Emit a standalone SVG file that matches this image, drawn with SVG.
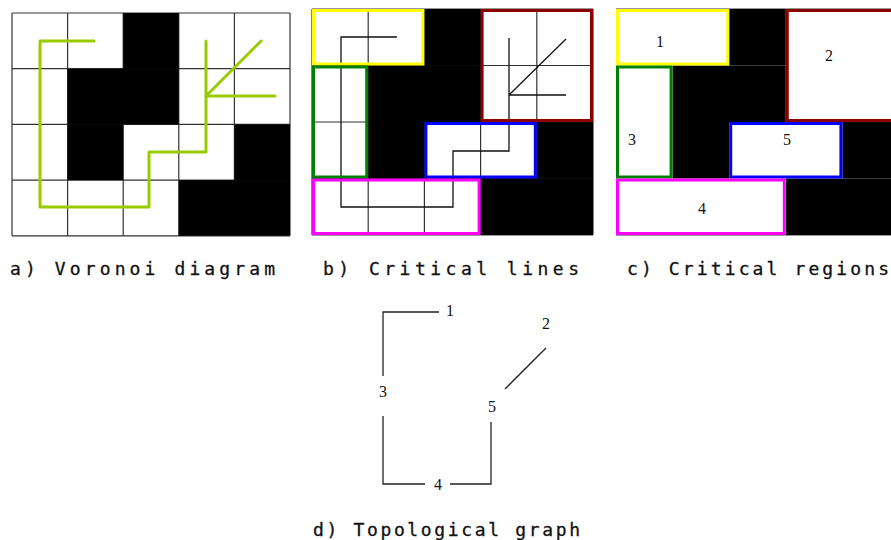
<svg xmlns="http://www.w3.org/2000/svg" width="891" height="540" viewBox="0 0 891 540">
  <style>
    .grid { stroke: #333; stroke-width: 1.2; fill: none; }
    .cell { fill: #000; }
    .voronoi { stroke: #99cc00; stroke-width: 3; fill: none; stroke-linecap: round; stroke-linejoin: round; }
    .crit { stroke: #111; stroke-width: 1.3; fill: none; }
    .box { fill: none; stroke-width: 3; }
    .yellow { stroke: #ffff00; }
    .red { stroke: #8b0000; }
    .green { stroke: #008000; }
    .blue { stroke: #0000ff; }
    .magenta { stroke: #ff00ff; }
    .num { font-family: "Liberation Serif", "Times New Roman", serif; font-size: 16px; fill: #111; text-anchor: middle; }
    .caption { font-family: "DejaVu Sans Mono", "Liberation Mono", monospace; font-size: 18px; fill: #111; stroke: #111; stroke-width: 0.3; }
    .edge { stroke: #222; stroke-width: 1.3; fill: none; }
  </style>
  <rect width="891" height="540" fill="#fff"/>

  <!-- a) Voronoi diagram -->
  <g id="panel-a">
    <path class="grid" d="M12,13H290M12,68.7H290M12,124.4H290M12,180.1H290M12,235.8H290M12,13V235.8M67.6,13V235.8M123.2,13V235.8M178.8,13V235.8M234.4,13V235.8M290,13V235.8"/>
    <rect class="cell" x="123.2" y="13" width="55.6" height="55.7"/>
    <rect class="cell" x="67.6" y="68.7" width="111.2" height="55.7"/>
    <rect class="cell" x="67.6" y="124.4" width="55.6" height="55.7"/>
    <rect class="cell" x="234.4" y="124.4" width="55.6" height="55.7"/>
    <rect class="cell" x="178.8" y="180.1" width="111.2" height="55.7"/>
    <path class="voronoi" d="M94,41H40V207H149V152H206V41M206,96H275M206,96L261,41"/>
  </g>

  <!-- b) Critical lines -->
  <g id="panel-b">
    <path class="grid" d="M312,9H593M312,65.5H593M312,122H593M312,178.5H593M312,235H593M312,9V235M368.2,9V235M424.4,9V235M480.6,9V235M536.8,9V235M593,9V235"/>
    <rect class="cell" x="424.4" y="9" width="56.2" height="56.5"/>
    <rect class="cell" x="368.2" y="65.5" width="112.4" height="56.5"/>
    <rect class="cell" x="368.2" y="122" width="56.2" height="56.5"/>
    <rect class="cell" x="536.8" y="122" width="56.2" height="56.5"/>
    <rect class="cell" x="480.6" y="178.5" width="112.4" height="56.5"/>
    <path class="crit" d="M397,37H341V207H453V151H509V38M509,95H566M509,95L566,39"/>
    <rect class="box yellow" x="313.5" y="10.5" width="109.4" height="53.5"/>
    <rect class="box red" x="482.1" y="10.5" width="109.4" height="110"/>
    <rect class="box green" x="313.5" y="67" width="53.2" height="110"/>
    <rect class="box blue" x="425.9" y="123.5" width="109.4" height="53.5"/>
    <rect class="box magenta" x="313.5" y="180" width="165.6" height="53.5"/>
  </g>

  <!-- c) Critical regions -->
  <g id="panel-c">
    <path class="grid" d="M616,9H891M616,235H891"/>
    <rect class="cell" x="729.2" y="9" width="56.6" height="56.5"/>
    <rect class="cell" x="672.6" y="65.5" width="113.2" height="56.5"/>
    <rect class="cell" x="672.6" y="122" width="56.6" height="56.5"/>
    <rect class="cell" x="842.4" y="122" width="56.6" height="56.5"/>
    <rect class="cell" x="785.8" y="178.5" width="113.2" height="56.5"/>
    <g id="region-1"><rect class="box yellow" x="617.5" y="10.5" width="110.2" height="53.5"/><text class="num" x="660" y="47">1</text></g>
    <g id="region-2"><rect class="box red" x="787.3" y="10.5" width="110.2" height="110"/><text class="num" x="829" y="61">2</text></g>
    <g id="region-3"><rect class="box green" x="617.5" y="67" width="53.6" height="110"/><text class="num" x="632" y="145">3</text></g>
    <g id="region-5"><rect class="box blue" x="730.7" y="123.5" width="110.2" height="53.5"/><text class="num" x="787" y="145">5</text></g>
    <g id="region-4"><rect class="box magenta" x="617.5" y="180" width="166.8" height="53.5"/><text class="num" x="702" y="214">4</text></g>
  </g>

  <!-- d) Topological graph -->
  <g id="graph-edges">
    <path class="edge" d="M439,312H383V376"/>
    <path class="edge" d="M383,416V484H425"/>
    <path class="edge" d="M450,484H491V422"/>
    <path class="edge" d="M505,389L546,348"/>
  </g>
  <g id="node-1"><text class="num" x="450" y="316">1</text></g>
  <g id="node-2"><text class="num" x="546" y="329">2</text></g>
  <g id="node-3"><text class="num" x="383" y="397">3</text></g>
  <g id="node-4"><text class="num" x="438" y="490">4</text></g>
  <g id="node-5"><text class="num" x="492" y="412">5</text></g>

  <!-- captions -->
  <text class="caption" x="10" y="275" textLength="265" lengthAdjust="spacing">a) Voronoi diagram</text>
  <text class="caption" x="323" y="275" textLength="256" lengthAdjust="spacing">b) Critical lines</text>
  <text class="caption" x="627" y="275" textLength="262" lengthAdjust="spacing">c) Critical regions</text>
  <text class="caption" x="313" y="536" textLength="267" lengthAdjust="spacing">d) Topological graph</text>
</svg>
